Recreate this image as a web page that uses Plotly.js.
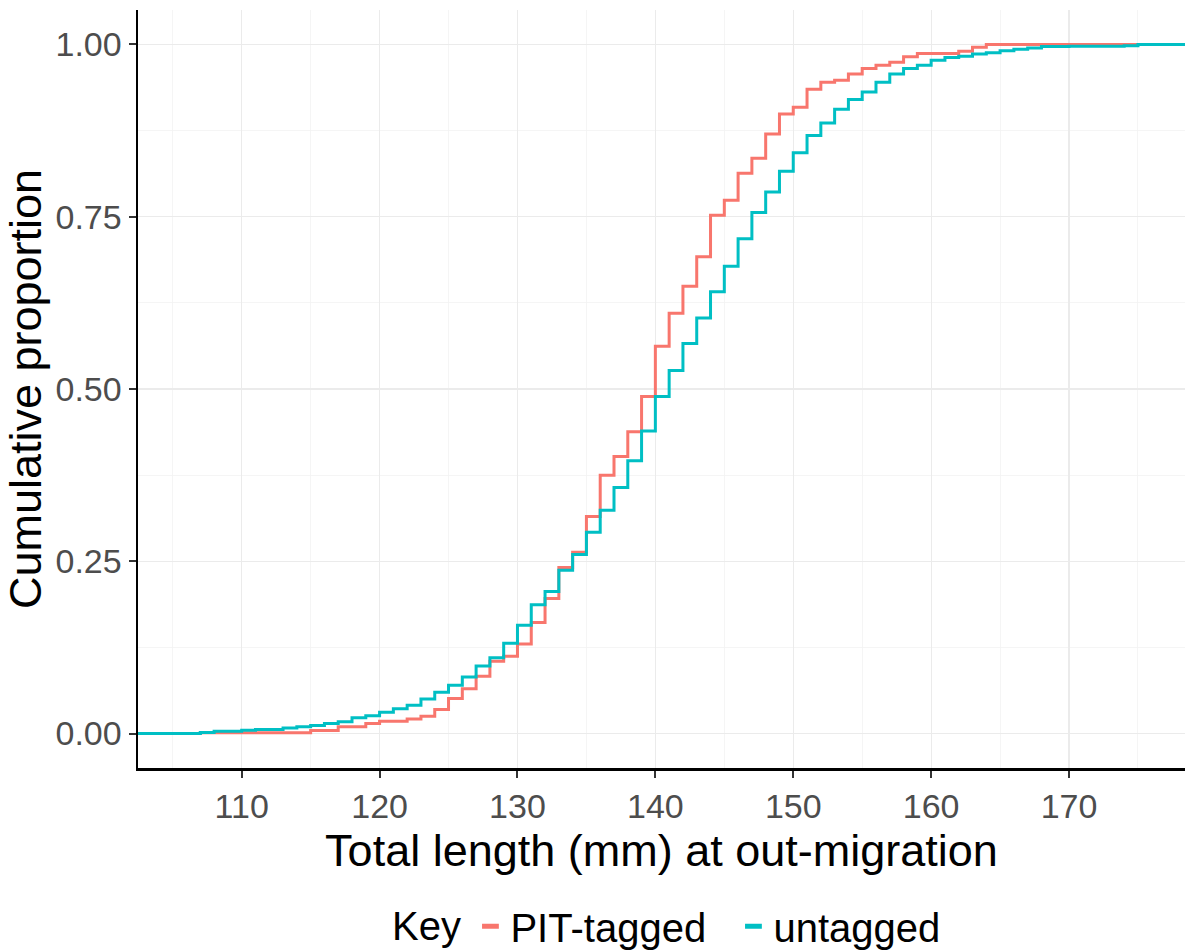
<!DOCTYPE html>
<html>
<head>
<meta charset="utf-8">
<script src="https://cdn.plot.ly/plotly-3.0.1.min.js"></script>
<style>html,body{margin:0;padding:0;background:#fff;}#chart{width:1185px;height:951px;}</style>
</head>
<body>
<div id="chart"></div>
<script>
// Total length (mm), integer steps of the empirical CDF
const lengths = [102,103,104,105,106,107,108,109,110,111,112,113,114,115,116,117,118,119,120,121,122,123,124,125,126,127,128,129,130,131,132,133,134,135,136,137,138,139,140,141,142,143,144,145,146,147,148,149,150,151,152,153,154,155,156,157,158,159,160,161,162,163,164,165,166,167,168,169,170,171,172,173,174,175,176,177,178,179];

const pitTagged = [0,0,0,0,0,0.001,0.001,0.001,0.001,0.001,0.001,0.001,0.001,0.0044,0.0044,0.0097,0.0097,0.0145,0.018,0.018,0.021,0.025,0.035,0.051,0.065,0.083,0.105,0.112,0.130,0.161,0.196,0.241,0.263,0.315,0.375,0.402,0.438,0.489,0.562,0.610,0.649,0.692,0.752,0.774,0.813,0.835,0.870,0.899,0.909,0.935,0.945,0.948,0.957,0.965,0.970,0.974,0.982,0.987,0.987,0.987,0.990,0.996,1,1,1,1,1,1,1,1,1,1,1,1,1,1,1,1];

const untagged = [0,0,0,0,0,0.0015,0.0034,0.0034,0.0048,0.0058,0.0058,0.0082,0.0097,0.0116,0.0145,0.017,0.023,0.026,0.031,0.036,0.041,0.050,0.060,0.070,0.082,0.098,0.110,0.131,0.157,0.187,0.206,0.237,0.260,0.292,0.324,0.357,0.396,0.439,0.489,0.527,0.566,0.603,0.641,0.678,0.718,0.756,0.786,0.816,0.843,0.868,0.886,0.906,0.920,0.931,0.945,0.957,0.965,0.970,0.977,0.981,0.983,0.986,0.988,0.991,0.993,0.995,0.997,0.997,0.9975,0.9975,0.9975,0.9975,0.998,1,1,1,1,1];

const seriesNames = ["PIT-tagged", "untagged"];
const seriesColors = ["#F8766D", "#00BFC4"];
const legendTitle = "Key";

const xTickVals = [110,120,130,140,150,160,170];
const xTickText = ["110","120","130","140","150","160","170"];
const xMinorVals = [105,115,125,135,145,155,165,175];
const yTickVals = [0,0.25,0.5,0.75,1];
const yTickText = ["0.00","0.25","0.50","0.75","1.00"];
const yMinorVals = [0.125,0.375,0.625,0.875];

const FONT = "Liberation Sans, Arial, sans-serif";
const seriesData = [pitTagged, untagged];

const traces = [];
seriesData.forEach((vals, i) => {
  traces.push({
    x: lengths, y: vals, type: "scatter", mode: "lines",
    line: {shape: "hv", color: seriesColors[i], width: 3},
    name: seriesNames[i], showlegend: false, hoverinfo: "x+y"
  });
});
// legend keys (short bars like the ggplot keys)
seriesNames.forEach((nm, i) => {
  traces.push({
    x: [null], y: [null], type: "scatter", mode: "markers",
    marker: {symbol: "line-ew", size: 12, color: seriesColors[i], line: {width: 8, color: seriesColors[i]}},
    name: nm, showlegend: true, hoverinfo: "skip"
  });
});

const layout = {
  width: 1185, height: 951,
  margin: {l: 138, r: 0, t: 10, b: 183},
  paper_bgcolor: "#ffffff", plot_bgcolor: "#ffffff",
  font: {family: FONT, color: "#000000"},
  xaxis: {
    range: [102.48, 178.41],
    tickmode: "array", tickvals: xTickVals, ticktext: xTickText,
    tickfont: {size: 34, color: "#4d4d4d", family: FONT},
    ticks: "outside", ticklen: 7, tickwidth: 2, tickcolor: "#333333",
    showgrid: true, gridcolor: "#ebebeb", gridwidth: 1.2,
    minor: {tickmode: "array", tickvals: xMinorVals, showgrid: true, gridcolor: "#f2f2f2", gridwidth: 0.8, ticks: ""},
    zeroline: false,
    showline: true, linecolor: "#000000", linewidth: 2.5,
    title: {text: "Total length (mm) at out-migration", font: {size: 45, color: "#000000", family: FONT}, standoff: 10},
    automargin: false
  },
  yaxis: {
    range: [-0.05, 1.05],
    tickmode: "array", tickvals: yTickVals, ticktext: yTickText,
    tickfont: {size: 34, color: "#4d4d4d", family: FONT},
    ticks: "outside", ticklen: 7, tickwidth: 2, tickcolor: "#333333",
    showgrid: true, gridcolor: "#ebebeb", gridwidth: 1.2,
    minor: {tickmode: "array", tickvals: yMinorVals, showgrid: true, gridcolor: "#f2f2f2", gridwidth: 0.8, ticks: ""},
    zeroline: false,
    showline: true, linecolor: "#000000", linewidth: 2.5,
    title: {text: "Cumulative proportion", font: {size: 45, color: "#000000", family: FONT}, standoff: 4},
    automargin: false
  },
  legend: {
    orientation: "h",
    xref: "container", yref: "container",
    x: 0.397, xanchor: "left", y: 0.026, yanchor: "middle",
    font: {size: 40, color: "#000000", family: FONT},
    itemwidth: 30, entrywidth: 218, bgcolor: "rgba(0,0,0,0)"
  },
  annotations: [{
    text: legendTitle, xref: "paper", yref: "paper",
    x: (390 - 138) / 1047, xanchor: "left",
    y: -(926 - 768) / 758, yanchor: "middle",
    showarrow: false, font: {size: 40, color: "#000000", family: FONT}
  }],
  showlegend: true
};

Plotly.newPlot("chart", traces, layout, {displayModeBar: false, staticPlot: true});
</script>
</body>
</html>
